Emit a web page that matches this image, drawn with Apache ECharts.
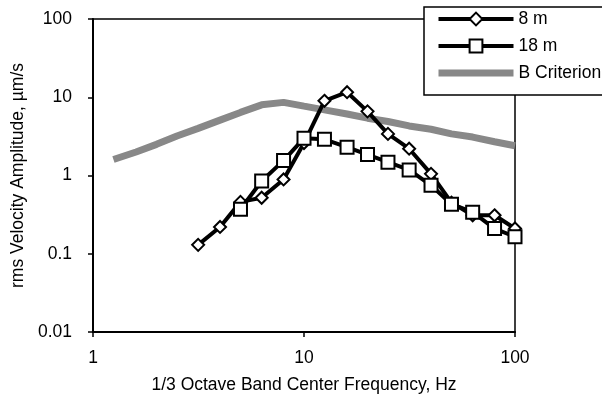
<!DOCTYPE html>
<html>
<head>
<meta charset="utf-8">
<script src="https://cdn.jsdelivr.net/npm/echarts@6/dist/echarts.min.js"></script>
<style>
  html,body{margin:0;padding:0;background:#fff;}
  #chart{width:602px;height:396px;}
</style>
</head>
<body>
<div id="chart"></div>
<script>
// 1/3 octave band data
var freq8 = [3.15, 4, 5, 6.3, 8, 10, 12.5, 16, 20, 25, 31.5, 40, 50, 63, 80, 100];
var amp8 = [0.13, 0.22, 0.46, 0.52, 0.89, 2.6, 9.0, 11.6, 6.6, 3.4, 2.2, 1.05, 0.45, 0.31, 0.31, 0.21];

var freq18 = [5, 6.3, 8, 10, 12.5, 16, 20, 25, 31.5, 40, 50, 63, 80, 100];
var amp18 = [0.37, 0.85, 1.55, 3.0, 2.9, 2.3, 1.85, 1.48, 1.18, 0.75, 0.43, 0.34, 0.21, 0.165];

var freqB = [1.25, 1.6, 2, 2.5, 3.15, 4, 5, 6.3, 8, 10, 12.5, 16, 20, 25, 31.5, 40, 50, 63, 80, 100];
var ampB = [1.6, 2.0, 2.5, 3.2, 4.0, 5.1, 6.4, 8.0, 8.6, 7.7, 6.9, 6.1, 5.4, 4.9, 4.3, 3.9, 3.4, 3.1, 2.7, 2.4];

var legendNames = ['8 m', '18 m', 'B Criterion'];

function pairs(xs, ys){
	var out = [];
	for (var i = 0; i < xs.length; i++) out.push([xs[i], ys[i]]);
	return out;
}

var font = 'Liberation Sans, Arial, sans-serif';

var myChart = echarts.init(document.getElementById('chart'));
var option = {
	animation: false,
	backgroundColor: '#fff',
	grid: {
		left: 93, right: 87, top: 19, bottom: 64,
		outerBoundsMode: 'none', containLabel: false,
		show: true, borderColor: '#000', borderWidth: 1.5
	},
	legend: {
		data: [
			{name: legendNames[0]},
			{name: legendNames[1]},
			{name: legendNames[2], itemStyle: {opacity: 0}}
		],
		orient: 'vertical',
		left: 424, top: 7,
		itemWidth: 75, itemHeight: 16, itemGap: 9,
		padding: [3, 120, 13, 11],
		borderColor: '#000', borderWidth: 1.5,
		backgroundColor: '#fff',
		lineStyle: {width: 'inherit'},
		textStyle: {fontFamily: font, fontSize: 17.5, color: '#000'}
	},
	xAxis: {
		type: 'log', logBase: 10, min: 1, max: 100,
		name: '1/3 Octave Band Center Frequency, Hz',
		nameLocation: 'middle', nameGap: 44,
		nameTextStyle: {fontFamily: font, fontSize: 17.5, color: '#000'},
		axisLine: {lineStyle: {color: '#000', width: 2}},
		axisTick: {inside: false, length: 5, lineStyle: {color: '#000', width: 1.5}},
		axisLabel: {margin: 17, fontFamily: font, fontSize: 17.5, color: '#000'},
		splitLine: {show: false}
	},
	yAxis: {
		type: 'log', logBase: 10, min: 0.01, max: 100,
		name: 'rms Velocity Amplitude, µm/s',
		nameLocation: 'middle', nameGap: 62,
		nameTextStyle: {fontFamily: font, fontSize: 17.5, color: '#000'},
		axisLine: {lineStyle: {color: '#000', width: 2}},
		axisTick: {inside: false, length: 5, lineStyle: {color: '#000', width: 1.5}},
		axisLabel: {
			margin: 21, fontFamily: font, fontSize: 17.5, color: '#000',
			formatter: function(v){ return parseFloat(v.toPrecision(3)).toString(); }
		},
		splitLine: {show: false}
	},
	series: [
		{
			name: 'B Criterion', type: 'line', data: pairs(freqB, ampB),
			showSymbol: false, symbol: 'none',
			lineStyle: {color: '#888888', width: 7},
			itemStyle: {color: '#888888'},
			z: 1
		},
		{
			name: '8 m', type: 'line', data: pairs(freq8, amp8),
			symbol: 'diamond', symbolSize: 12,
			lineStyle: {color: '#000', width: 4},
			itemStyle: {color: '#fff', borderColor: '#000', borderWidth: 2},
			z: 2
		},
		{
			name: '18 m', type: 'line', data: pairs(freq18, amp18),
			symbol: 'rect', symbolSize: 13,
			lineStyle: {color: '#000', width: 4},
			itemStyle: {color: '#fff', borderColor: '#000', borderWidth: 2},
			z: 3
		}
	]
};
myChart.setOption(option, true);
</script>
</body>
</html>
